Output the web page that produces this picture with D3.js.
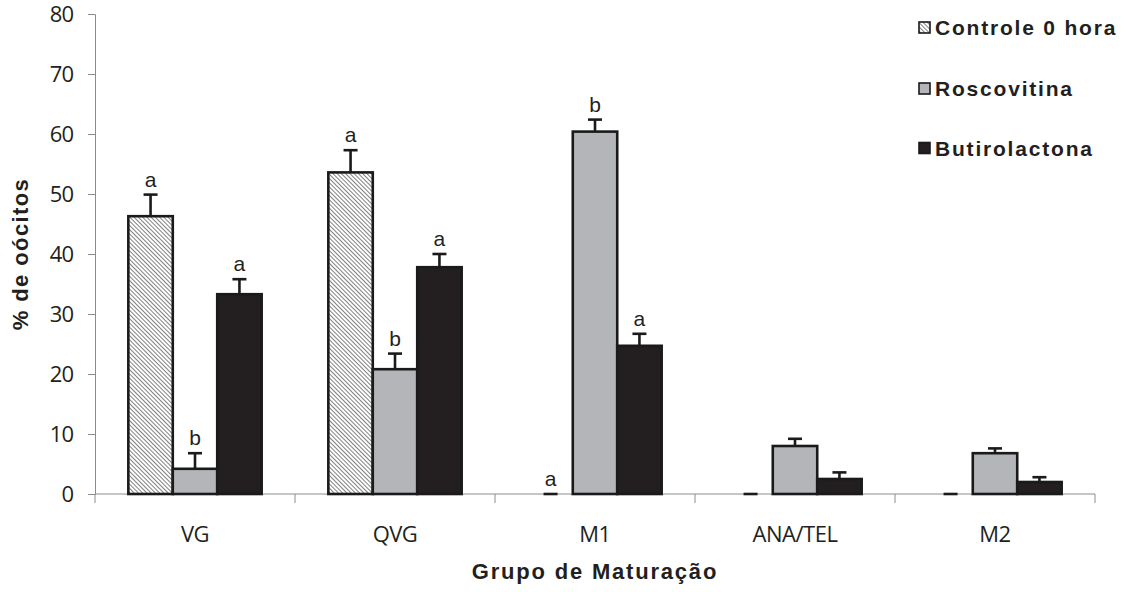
<!DOCTYPE html>
<html><head><meta charset="utf-8">
<script src="https://cdn.jsdelivr.net/npm/d3@7"></script>
<style>body{margin:0;background:#fff;}svg{display:block;}</style>
</head><body><svg id="c" width="1130" height="592"></svg>
<script>
const categories = ["VG","QVG","M1","ANA/TEL","M2"];
const seriesNames = ["Controle 0 hora","Roscovitina","Butirolactona"];
const controle = [46.3, 53.6, 0, 0, 0];
const roscovitina = [4.2, 20.8, 60.4, 8.0, 6.8];
const butirolactona = [33.3, 37.8, 24.7, 2.5, 2.0];
const errControle = [3.6, 3.7, 0, 0, 0];
const errRoscovitina = [2.6, 2.6, 2.0, 1.2, 0.8];
const errButirolactona = [2.5, 2.2, 2.0, 1.1, 0.8];
const lettersControle = ["a","a","a","",""];
const lettersRoscovitina = ["b","b","b","",""];
const lettersButirolactona = ["a","a","a","",""];
const yTicks = [0,10,20,30,40,50,60,70,80];

const series = [
  {name: seriesNames[0], values: controle, err: errControle, letters: lettersControle, fill: "url(#hatch)"},
  {name: seriesNames[1], values: roscovitina, err: errRoscovitina, letters: lettersRoscovitina, fill: "#b4b5b9"},
  {name: seriesNames[2], values: butirolactona, err: errButirolactona, letters: lettersButirolactona, fill: "#231f20"}
];

const svg = d3.select("#c");
const defs = svg.append("defs");
const pat = defs.append("pattern").attr("id","hatch").attr("patternUnits","userSpaceOnUse")
  .attr("width",3).attr("height",3).attr("patternTransform","rotate(-45)");
pat.append("rect").attr("width",3).attr("height",3).attr("fill","#fff");
pat.append("line").attr("x1",0).attr("y1",0).attr("x2",0).attr("y2",3).attr("stroke","#4a4a4a").attr("stroke-width",1.4);

const mLeft = 95, mRight = 1095, mTop = 14, mBottom = 494;
const x0 = d3.scaleBand().domain(categories).range([mLeft, mRight]).paddingInner(0).paddingOuter(0);
const groupW = x0.bandwidth() / 1.5;
const x1 = d3.scaleBand().domain(d3.range(series.length)).range([0, groupW]);
const y = d3.scaleLinear().domain([0,80]).range([mBottom, mTop]);

const axisColor = "#8c8c8c";
const textColor = "#231f20";
const yAxis = svg.append("g").attr("transform",`translate(${mLeft},0)`)
  .call(d3.axisLeft(y).tickValues(yTicks).tickSize(7).tickPadding(15));
yAxis.select(".domain").attr("stroke",axisColor);
yAxis.selectAll(".tick line").attr("stroke",axisColor);
yAxis.selectAll("text").attr("font-family","'Open Sans', sans-serif").attr("font-size",22)
  .attr("letter-spacing",-1).attr("fill",textColor).attr("dy","0.34em");

const xAxis = svg.append("g").attr("transform",`translate(0,${mBottom})`)
  .call(d3.axisBottom(x0).tickSize(0).tickPadding(0));
xAxis.select(".domain").attr("stroke",axisColor).attr("d",`M${mLeft},0H${mRight}`);
xAxis.selectAll("text").attr("font-family","'Open Sans', sans-serif").attr("font-size",22)
  .attr("letter-spacing",-0.5).attr("fill",textColor).attr("dy",null).attr("y",48);

const bounds = categories.map(c=>x0(c)).concat([mRight]);
svg.append("g").selectAll("line").data(bounds).join("line")
  .attr("x1",d=>d).attr("x2",d=>d).attr("y1",mBottom).attr("y2",mBottom+9)
  .attr("stroke",axisColor);

const groups = svg.append("g").selectAll("g").data(categories).join("g")
  .attr("transform",c=>`translate(${x0(c)+(x0.bandwidth()-groupW)/2},0)`);

series.forEach((s,si)=>{
  groups.filter((c,i)=>s.values[i]>0).append("rect")
    .attr("x", x1(si)).attr("width", x1.bandwidth())
    .attr("y",c=>y(s.values[categories.indexOf(c)]))
    .attr("height",c=>mBottom-y(s.values[categories.indexOf(c)]))
    .attr("fill", s.fill).attr("stroke","#1a1a1a").attr("stroke-width",2.6);
  groups.each(function(c){
    const i = categories.indexOf(c);
    const g = d3.select(this);
    const cx = x1(si)+x1.bandwidth()/2;
    const top = y(s.values[i]+s.err[i]);
    if (s.err[i] > 0) {
      g.append("line").attr("x1",cx).attr("x2",cx).attr("y1",y(s.values[i])).attr("y2",top)
        .attr("stroke","#1a1a1a").attr("stroke-width",2.6);
    }
    g.append("line").attr("x1",cx-7).attr("x2",cx+7).attr("y1",top).attr("y2",top)
      .attr("stroke","#1a1a1a").attr("stroke-width",2.6);
  });
  groups.filter((c,i)=>s.letters[i]!=="").append("text")
    .attr("x", x1(si)+x1.bandwidth()/2)
    .attr("y",c=>{const i=categories.indexOf(c); return y(s.values[i]+s.err[i])-8;})
    .attr("text-anchor","middle").attr("font-family","'Liberation Sans', Arial, sans-serif")
    .attr("font-size",21).attr("fill",textColor)
    .text(c=>s.letters[categories.indexOf(c)]);
});

svg.append("text").attr("transform",`translate(28,${(mTop+mBottom)/2}) rotate(-90)`)
  .attr("text-anchor","middle").attr("font-family","'Liberation Sans', Arial, sans-serif")
  .attr("font-weight","bold").attr("font-size",22).attr("letter-spacing",1.4)
  .attr("fill",textColor).text("% de oócitos");
svg.append("text").attr("x",595).attr("y",579)
  .attr("text-anchor","middle").attr("font-family","'Liberation Sans', Arial, sans-serif")
  .attr("font-weight","bold").attr("font-size",22).attr("letter-spacing",1.8)
  .attr("fill",textColor).text("Grupo de Maturação");

const legY = [27.5, 88.5, 148];
const leg = svg.append("g").selectAll("g").data(series).join("g")
  .attr("transform",(d,i)=>`translate(919,${legY[i]})`);
leg.append("rect").attr("x",0).attr("y",-5.5).attr("width",11).attr("height",11)
  .attr("fill",d=>d.fill).attr("stroke","#1a1a1a").attr("stroke-width",1.6);
leg.append("text").attr("x",16).attr("y",0).attr("dy","0.36em")
  .attr("font-family","'Liberation Sans', Arial, sans-serif").attr("font-weight","bold")
  .attr("font-size",21).attr("letter-spacing",1.8).attr("fill",textColor).text(d=>d.name);
</script></body></html>
